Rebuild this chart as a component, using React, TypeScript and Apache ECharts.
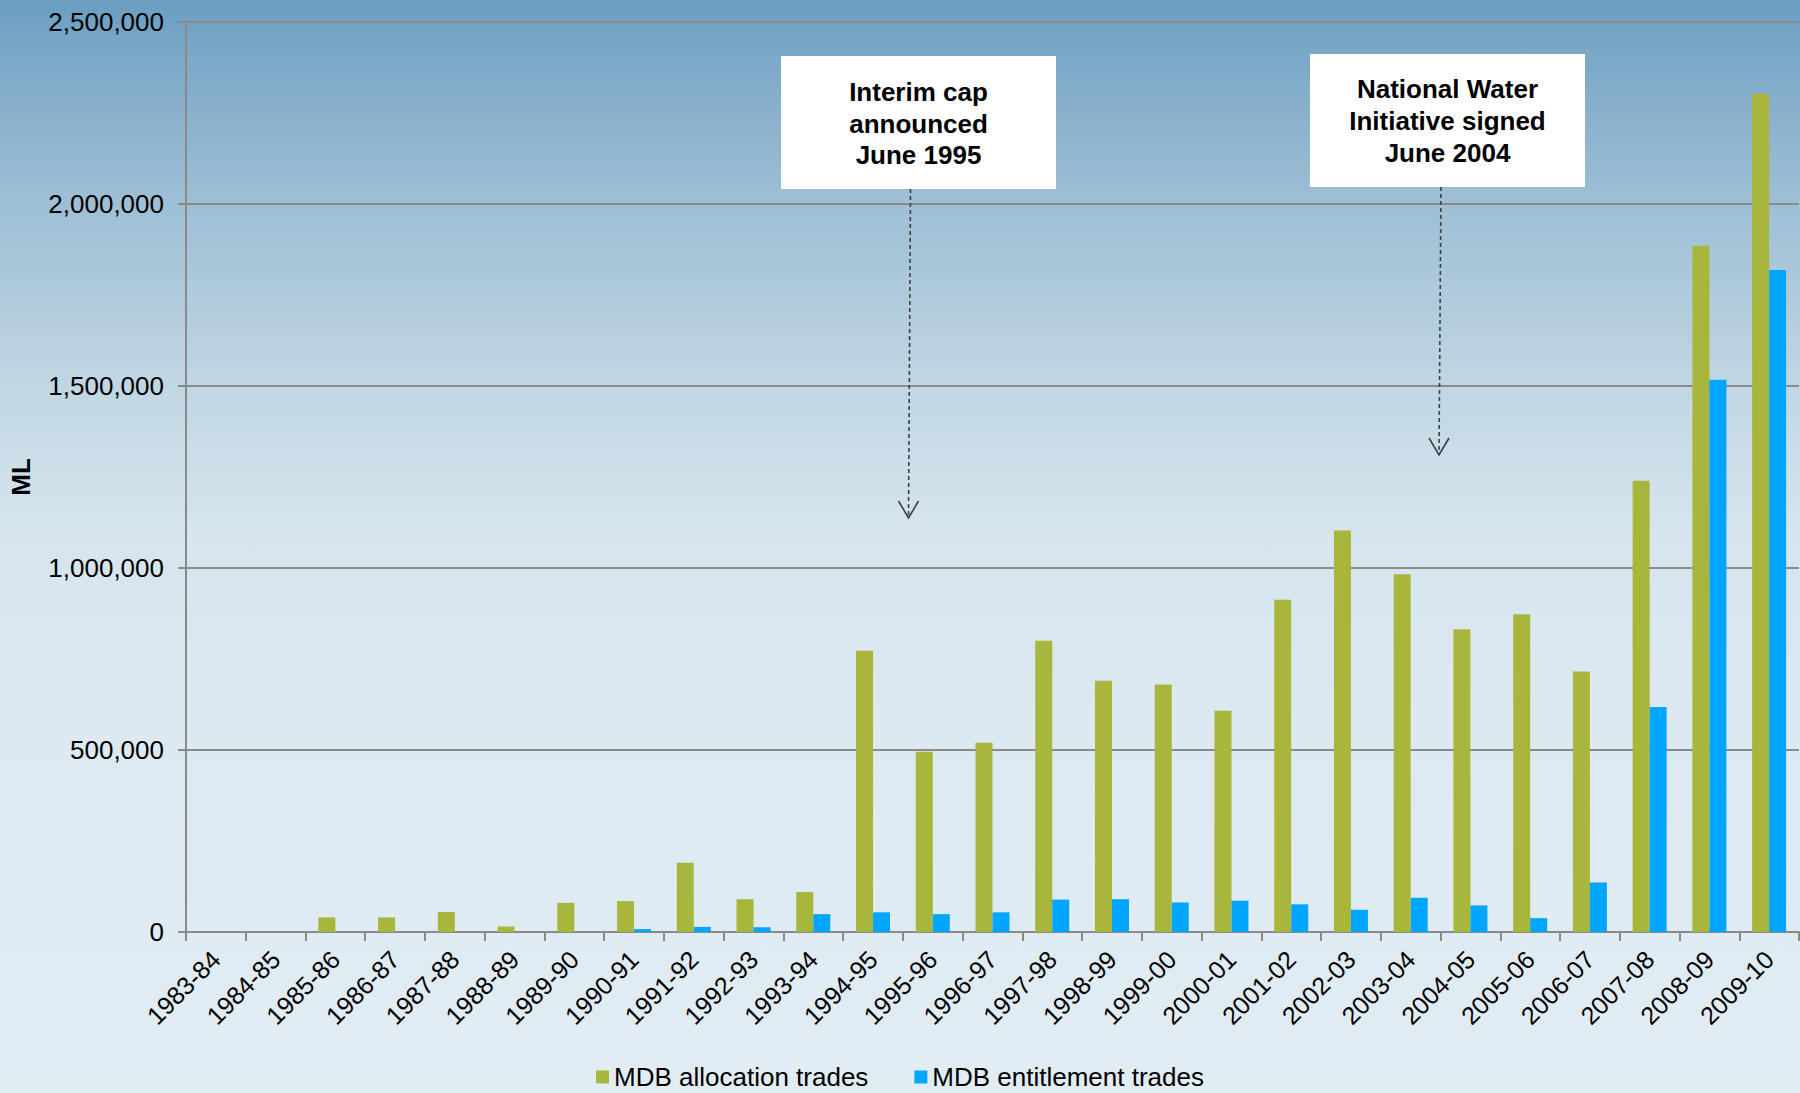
import React, { useEffect, useRef } from "react";
import * as echarts from "echarts";

const categories = [
  "1983-84", "1984-85", "1985-86", "1986-87", "1987-88", "1988-89", "1989-90",
  "1990-91", "1991-92", "1992-93", "1993-94", "1994-95", "1995-96", "1996-97",
  "1997-98", "1998-99", "1999-00", "2000-01", "2001-02", "2002-03", "2003-04",
  "2004-05", "2005-06", "2006-07", "2007-08", "2008-09", "2009-10",
];

const allocationTrades = [
  0, 0, 40000, 40000, 55000, 15000, 80000, 85000, 190000, 90000, 110000,
  773000, 495000, 520000, 800000, 690000, 680000, 608000, 913000, 1103000,
  983000, 832000, 873000, 716000, 1240000, 1885000, 2302000,
];

const entitlementTrades = [
  0, 0, 0, 0, 0, 0, 0, 8000, 14000, 13000, 49000, 54000, 49000, 54000, 89000,
  90000, 81000, 86000, 76000, 61000, 94000, 73000, 38000, 136000, 618000,
  1517000, 1819000,
];

const yTicks = [0, 500000, 1000000, 1500000, 2000000, 2500000];

const seriesNames = ["MDB allocation trades", "MDB entitlement trades"];
const annotations = [
  "Interim cap\nannounced\nJune 1995",
  "National Water\nInitiative signed\nJune 2004",
];

const FONT = "'Liberation Sans', Arial, Helvetica, sans-serif";

export default function App() {
  const ref = useRef<HTMLDivElement>(null);

  useEffect(() => {
    document.body.style.margin = "0";
    if (!ref.current) return;
    const chart = echarts.init(ref.current, null, { renderer: "svg" });

    const arrowColor = "#3f3f3f";
    const mkArrow = (x1: number, y1: number, x2: number, y2: number) => [
      {
        type: "line",
        shape: { x1, y1, x2, y2 },
        style: { stroke: arrowColor, lineWidth: 1.6, lineDash: [4, 3] },
        z: 10,
      },
      {
        type: "polyline",
        shape: { points: [[x2 - 10, y2 - 17], [x2, y2], [x2 + 10, y2 - 17]] },
        style: { stroke: arrowColor, lineWidth: 1.6, fill: null },
        z: 10,
      },
    ];

    const option: any = {
      animation: false,
      textStyle: { fontFamily: FONT },
      grid: { left: 186, right: 1, top: 22, bottom: 161, containLabel: false },
      legend: {
        data: seriesNames,
        left: "center",
        top: 1064,
        itemWidth: 13,
        itemHeight: 13,
        itemGap: 46,
        icon: "rect",
        padding: [0, 5, 0, 5],
        textStyle: { fontSize: 26, color: "#000", fontFamily: FONT },
      },
      xAxis: {
        type: "category",
        data: categories,
        boundaryGap: true,
        axisLine: { show: true, lineStyle: { color: "#8a8a8a", width: 2 } },
        axisTick: { show: true, length: 9, alignWithLabel: false, lineStyle: { color: "#8a8a8a", width: 2 } },
        axisLabel: {
          rotate: 45,
          interval: 0,
          margin: 23,
          fontSize: 25,
          color: "#000",
          fontFamily: FONT,
        },
        splitLine: { show: false },
      },
      yAxis: {
        type: "value",
        min: 0,
        max: 2500000,
        interval: 500000,
        name: "ML",
        nameLocation: "middle",
        nameGap: 152,
        nameTextStyle: { fontSize: 26, fontWeight: "bold", color: "#000", fontFamily: FONT },
        axisLine: { show: true, lineStyle: { color: "#8a8a8a", width: 2 } },
        axisTick: { show: true, length: 8, inside: false, lineStyle: { color: "#8a8a8a", width: 2 } },
        axisLabel: {
          margin: 22,
          fontSize: 26,
          color: "#000",
          fontFamily: FONT,
          formatter: (v: number) => (yTicks.includes(v) ? v.toLocaleString("en-US") : ""),
        },
        splitLine: { show: true, lineStyle: { color: "#8a8a8a", width: 2 } },
      },
      series: [
        {
          name: seriesNames[0],
          type: "bar",
          data: allocationTrades,
          barWidth: 17,
          barGap: "0%",
          itemStyle: { color: "#a9b63c" },
        },
        {
          name: seriesNames[1],
          type: "bar",
          data: entitlementTrades,
          barWidth: 17,
          barGap: "0%",
          itemStyle: { color: "#00a6fd" },
        },
      ],
      graphic: [
        {
          type: "rect",
          shape: { x: 781, y: 56, width: 275, height: 133 },
          style: { fill: "#ffffff" },
          z: 9,
        },
        {
          type: "text",
          x: 918.5,
          y: 123.5,
          style: {
            text: annotations[0],
            fontSize: 26,
            fontWeight: "bold",
            fontFamily: FONT,
            fill: "#000",
            align: "center",
            verticalAlign: "middle",
            lineHeight: 31.5,
          },
          z: 11,
        },
        ...mkArrow(910.5, 189, 908.5, 518),
        {
          type: "rect",
          shape: { x: 1310, y: 54, width: 275, height: 133 },
          style: { fill: "#ffffff" },
          z: 9,
        },
        {
          type: "text",
          x: 1447.5,
          y: 121,
          style: {
            text: annotations[1],
            fontSize: 26,
            fontWeight: "bold",
            fontFamily: FONT,
            fill: "#000",
            align: "center",
            verticalAlign: "middle",
            lineHeight: 32,
          },
          z: 11,
        },
        ...mkArrow(1441, 187, 1439, 455),
      ],
    };

    chart.setOption(option);
    return () => chart.dispose();
  }, []);

  return (
    <div
      ref={ref}
      style={{
        width: 1800,
        height: 1093,
        background:
          "linear-gradient(to bottom, #6a9dc0 0%, #75a5c5 3%, #9dbed4 18%, #c0d6e3 35%, #d5e4ed 48%, #dde9f1 65%, #e1ecf3 100%)",
      }}
    />
  );
}
